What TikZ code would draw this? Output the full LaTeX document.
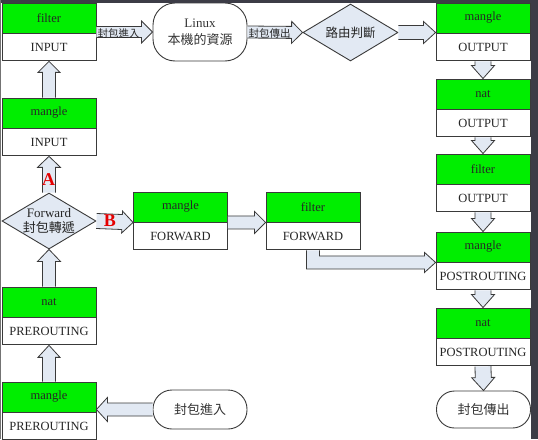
\documentclass[tikz,border=0pt]{standalone}
\usepackage{fontspec}
\setmainfont{Liberation Serif}
\newfontfamily\cjk{Noto Sans CJK TC}
\usetikzlibrary{calc,shapes.geometric}

\definecolor{boxgreen}{HTML}{00EE00}
\definecolor{arrfill}{HTML}{E2E9F3}
\definecolor{lineclr}{HTML}{3A3A3A}
\definecolor{framec}{HTML}{3C3C46}

\tikzset{
  boxtop/.style={draw=lineclr, line width=0.9pt, fill=boxgreen, minimum width=94pt, minimum height=30pt, inner sep=0pt, font=\fontsize{12.5}{14}\selectfont, text=black!85},
  boxbot/.style={draw=lineclr, line width=0.9pt, fill=white, minimum width=94pt, minimum height=27pt, inner sep=0pt, font=\fontsize{12.5}{14}\selectfont, text=black!85, anchor=north},
  arrowfillst/.style={fill=arrfill},
  arrowlinest/.style={draw=lineclr, line width=0.8pt, line join=miter},
  diam/.style={diamond, draw=lineclr, line width=0.9pt, fill=arrfill, minimum width=95pt, minimum height=57pt, inner sep=0pt, aspect=1.67},
  term/.style={draw=lineclr, line width=0.9pt, fill=white, minimum width=94pt, inner sep=0pt, align=center, text=black!80},
  arrlabel/.style={font=\cjk\fontsize{10.5}{12}\selectfont, inner sep=0pt, text=black!85},
  redlab/.style={font=\bfseries\fontsize{18}{18}\selectfont, text=red!90!black, inner sep=0pt},
  txtlab/.style={inner sep=0pt, align=center, text=black!85},
}

% name, x, ytop, top text, bottom text
\newcommand\chainbox[5]{%
  \node[boxtop] (#1-t) at (#2,#3+15) {#4};
  \node[boxbot] (#1-b) at (#1-t.south) {#5};
}
% block arrow: shaft half width, head half width, head length, from, to
\newcommand\barrow[5]{%
  \path[arrowfillst] ($(#4)!#1!90:(#5)$) -- ($($(#5)!#3!(#4)$)!#1!90:(#5)$)
    -- ($($(#5)!#3!(#4)$)!#2!90:(#5)$) -- (#5)
    -- ($($(#5)!#3!(#4)$)!#2!-90:(#5)$) -- ($($(#5)!#3!(#4)$)!#1!-90:(#5)$)
    -- ($(#4)!#1!-90:(#5)$) -- cycle;
  \draw[arrowlinest] ($(#4)!#1!90:(#5)$) -- ($($(#5)!#3!(#4)$)!#1!90:(#5)$)
    -- ($($(#5)!#3!(#4)$)!#2!90:(#5)$) -- (#5)
    -- ($($(#5)!#3!(#4)$)!#2!-90:(#5)$) -- ($($(#5)!#3!(#4)$)!#1!-90:(#5)$)
    -- ($(#4)!#1!-90:(#5)$);
}

\begin{document}
\begin{tikzpicture}[x=1pt,y=-1pt]
\useasboundingbox (0,0) rectangle (538,439);
\fill[white] (0,0) rectangle (538,439);

% left column
\chainbox{fiIN}{49}{3}{filter}{INPUT}
\chainbox{maIN}{49}{98}{mangle}{INPUT}
\chainbox{natPRE}{49}{287}{nat}{PREROUTING}
\chainbox{maPRE}{49}{382}{mangle}{PREROUTING}
% middle
\chainbox{maFW}{180.5}{192}{mangle}{FORWARD}
\chainbox{fiFW}{313}{192}{filter}{FORWARD}
% right column
\chainbox{maOUT}{483}{3}{mangle}{OUTPUT}
\chainbox{natOUT}{483}{79}{nat}{OUTPUT}
\chainbox{fiOUT}{483}{154}{filter}{OUTPUT}
\chainbox{maPOST}{483}{232}{mangle}{POSTROUTING}
\chainbox{natPOST}{483}{308}{nat}{POSTROUTING}

% terminals
\node[term, minimum height=58pt, rounded corners=22pt, font=\fontsize{13}{17}\selectfont] (linux) at (200,32) {Linux\\{\cjk 本機的資源}};
\node[term, minimum height=39pt, rounded corners=19pt, font=\cjk\fontsize{13}{15}\selectfont] (pin) at (200,409.5) {封包進入};
\node[term, minimum height=37pt, rounded corners=18pt, font=\cjk\fontsize{13}{15}\selectfont] (pout) at (483.5,409.5) {封包傳出};

% diamonds
\node[diam] (route) at (350.5,32.5) {};
\node[txtlab, font=\cjk\fontsize{12.5}{15}\selectfont] (route-l) at (route) {路由判斷};
\node[diam, minimum width=94pt, minimum height=56pt] (fw) at (49,221) {};
\node[txtlab, font=\fontsize{13}{15.5}\selectfont] (fw-l) at (fw) {Forward\\{\cjk 封包轉遞}};

% arrows
\barrow{5.5pt}{11pt}{11pt}{fiIN-t.south east |- linux.west}{linux.west}
\barrow{6pt}{11pt}{11pt}{linux.east}{route.west}
\barrow{7pt}{11pt}{12pt}{route.east}{maOUT-t.south west |- route.east}
\barrow{6.5pt}{11pt}{11pt}{maIN-t.north}{fiIN-b.south}
\barrow{6.5pt}{11.5pt}{11pt}{fw.north}{maIN-b.south}
\barrow{6.5pt}{11.5pt}{12pt}{natPRE-t.north}{fw.south}
\barrow{6.5pt}{11pt}{12pt}{maPRE-t.north}{natPRE-b.south}
\barrow{6.5pt}{12pt}{11pt}{pin.west}{maPRE-t.south east |- pin.west}
\barrow{7.5pt}{11pt}{11pt}{fw.east}{maFW-t.south west}
\barrow{6.5pt}{11pt}{11pt}{maFW-t.south east}{fiFW-t.south west}
\barrow{8pt}{11.5pt}{13pt}{maOUT-b.south}{natOUT-t.north}
\barrow{8pt}{11.5pt}{13pt}{natOUT-b.south}{fiOUT-t.north}
\barrow{8pt}{11.5pt}{13pt}{fiOUT-b.south}{maPOST-t.north}
\barrow{8pt}{11.5pt}{13pt}{maPOST-b.south}{natPOST-t.north}
\barrow{8pt}{11.5pt}{13pt}{natPOST-b.south}{pout.north}

% elbow arrow filter FORWARD -> mangle POSTROUTING
\coordinate (elb) at (fiFW-b.south |- maPOST-t.south west);
\path[arrowfillst] ($(fiFW-b.south)+(-6.5,0)$) -- ($(elb)+(-6.5,6.5)$) -- ($(maPOST-t.south west)+(-11,6.5)$)
  -- ($(maPOST-t.south west)+(-11,10)$) -- (maPOST-t.south west) -- ($(maPOST-t.south west)+(-11,-10)$)
  -- ($(maPOST-t.south west)+(-11,-6.5)$) -- ($(elb)+(6.5,-6.5)$) -- ($(fiFW-b.south)+(6.5,0)$) -- cycle;
\draw[arrowlinest] ($(fiFW-b.south)+(-6.5,0)$) -- ($(elb)+(-6.5,6.5)$) -- ($(maPOST-t.south west)+(-11,6.5)$)
  -- ($(maPOST-t.south west)+(-11,10)$) -- (maPOST-t.south west) -- ($(maPOST-t.south west)+(-11,-10)$)
  -- ($(maPOST-t.south west)+(-11,-6.5)$) -- ($(elb)+(6.5,-6.5)$) -- ($(fiFW-b.south)+(6.5,0)$);

% arrow labels
\node[arrlabel] (lab-in) at (118.5,33) {封包進入};
\node[arrlabel] (lab-out) at (269.5,33) {封包傳出};
\node[redlab] (labA) at (48.5,180) {A};
\node[redlab] (labB) at (110,221) {B};

% frame
\fill[framec] (0,0) rectangle (538,2.5);
\fill[framec] (531,0) rectangle (538,439);
\fill[black!55] (0,0) rectangle (1,439);
\end{tikzpicture}
\end{document}
